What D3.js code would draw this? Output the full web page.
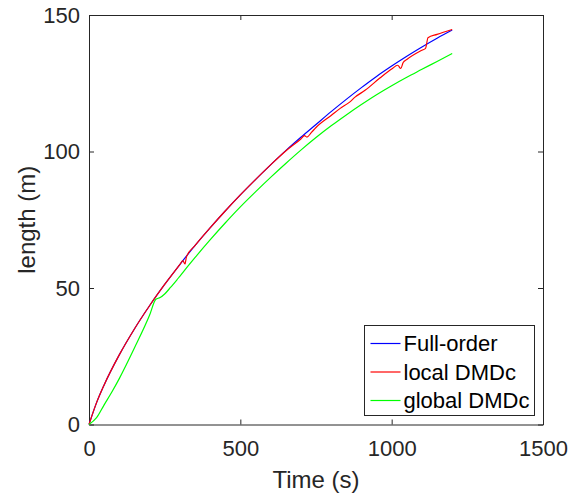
<!DOCTYPE html>
<html lang="en">
    <head>
        <meta charset="utf-8">
        <title>length vs time</title>
        <script src="https://d3js.org/d3.v7.min.js"></script>
        <style>
            body {
                margin: 0;
                background-color: #ffffff;
            }
            svg {
                font-family: "Liberation Sans", Arial, sans-serif;
            }
            .axis text {
                fill: #262626;
                font-size: 22px;
            }
            .axis path, .axis line {
                stroke: #262626;
            }
        </style>
    </head>
    <body>
        <svg id="chart"></svg>
        <script>
            // values
            const fullTime = [0, 25, 50, 100, 150, 200, 250, 300, 350, 400, 450, 500, 550, 600, 650, 700, 750, 800, 850, 900, 950, 1000, 1050, 1100, 1150, 1200];
            const fullLength = [0, 8, 14.5, 25.5, 35, 43.5, 51.3, 58.6, 65.5, 72, 78.2, 84.1, 89.7, 95.1, 100.3, 105.2, 109.9, 114.6, 119.1, 123.4, 127.5, 131.3, 134.9, 138.3, 141.5, 144.5];

            const localTime = [0, 25, 50, 100, 150, 200, 250, 300, 310, 317, 322, 350, 400, 450, 500, 550, 600, 650, 700, 712, 720, 735, 750, 800, 830, 860, 880, 912, 961, 1000, 1020, 1030, 1038, 1050, 1100, 1112, 1120, 1150, 1200];
            const localLength = [0, 8, 14.5, 25.5, 35, 43.5, 51.3, 58.6, 60.0, 58.8, 61.4, 65.5, 72, 78.2, 84.1, 89.7, 95.1, 100.2, 104.6, 105.8, 105.3, 107.0, 108.8, 113.2, 115.8, 118.0, 120.0, 122.4, 126.9, 130.2, 131.6, 130.4, 132.6, 133.7, 137.1, 137.8, 141.7, 142.9, 144.7];

            const globalTime = [0, 25, 50, 75, 100, 150, 200, 221, 235, 250, 270, 290, 300, 350, 400, 450, 500, 550, 600, 650, 700, 750, 800, 850, 900, 950, 1000, 1050, 1100, 1150, 1200];
            const globalLength = [0, 2.5, 7.2, 11.8, 16.8, 28, 40, 45.9, 46.5, 47.8, 50.3, 52.9, 54.3, 61.1, 67.6, 73.8, 79.7, 85.2, 90.5, 95.6, 100.5, 105.1, 109.4, 113.4, 117.2, 120.8, 124.1, 127.2, 130.1, 133, 135.9];

            const seriesNames = ["Full-order", "local DMDc", "global DMDc"];
            const seriesColors = ["#0000ff", "#ff0000", "#00ff00"];

            const xTicks = [0, 500, 1000, 1500];
            const yTicks = [0, 50, 100, 150];

            //dimensions
            const width = 579;
            const height = 500;
            const margin = { top: 15, right: 36, bottom: 75.5, left: 89 };
            const plotW = width - margin.left - margin.right;
            const plotH = height - margin.top - margin.bottom;

            const svg = d3.select("#chart")
                .attr("width", width)
                .attr("height", height);

            const xScale = d3.scaleLinear().domain([0, 1500]).range([0, plotW]);
            const yScale = d3.scaleLinear().domain([0, 150]).range([plotH, 0]);

            const g = svg.append("g")
                .attr("transform", `translate(${margin.left}, ${margin.top})`);

            //axes (ticks point inward, box on)
            g.append("g")
                .attr("class", "axis")
                .attr("transform", `translate(0, ${plotH})`)
                .call(d3.axisBottom(xScale).tickValues(xTicks).tickFormat(d3.format("d"))
                    .tickSizeInner(-5).tickSizeOuter(0).tickPadding(16));

            g.append("g")
                .attr("class", "axis")
                .call(d3.axisLeft(yScale).tickValues(yTicks).tickFormat(d3.format("d"))
                    .tickSizeInner(-5).tickSizeOuter(0).tickPadding(9));

            g.append("g")
                .attr("class", "axis")
                .call(d3.axisTop(xScale).tickValues(xTicks).tickSizeInner(-5).tickSizeOuter(0).tickFormat(""));

            g.append("g")
                .attr("class", "axis")
                .attr("transform", `translate(${plotW}, 0)`)
                .call(d3.axisRight(yScale).tickValues(yTicks).tickSizeInner(-5).tickSizeOuter(0).tickFormat(""));

            //lines
            const line = d3.line()
                .curve(d3.curveMonotoneX)
                .x(d => xScale(d[0]))
                .y(d => yScale(d[1]));

            const series = [
                d3.zip(fullTime, fullLength),
                d3.zip(localTime, localLength),
                d3.zip(globalTime, globalLength)
            ];

            series.forEach((s, i) => {
                g.append("path")
                    .datum(s)
                    .attr("fill", "none")
                    .attr("stroke", seriesColors[i])
                    .attr("stroke-width", 1.2)
                    .attr("d", line);
            });

            //axis labels
            svg.append("text")
                .attr("x", margin.left + plotW / 2)
                .attr("y", 488)
                .attr("text-anchor", "middle")
                .attr("fill", "#262626")
                .style("font-size", "24px")
                .text("Time (s)");

            svg.append("text")
                .attr("transform", `translate(35, ${margin.top + plotH / 2}) rotate(-90)`)
                .attr("text-anchor", "middle")
                .attr("fill", "#262626")
                .style("font-size", "24px")
                .text("length (m)");

            //legend
            const legend = svg.append("g")
                .attr("transform", "translate(364.5, 325.5)");

            legend.append("rect")
                .attr("width", 170)
                .attr("height", 90)
                .attr("fill", "#ffffff")
                .attr("stroke", "#262626")
                .attr("stroke-width", 1);

            seriesNames.forEach((name, i) => {
                const yy = 18 + i * 28.5;
                legend.append("line")
                    .attr("x1", 6)
                    .attr("x2", 36)
                    .attr("y1", yy)
                    .attr("y2", yy)
                    .attr("stroke", seriesColors[i])
                    .attr("stroke-width", 1.2);
                legend.append("text")
                    .attr("x", 39)
                    .attr("y", yy)
                    .attr("dy", "0.35em")
                    .attr("fill", "#000000")
                    .style("font-size", "22px")
                    .text(name);
            });
        </script>
    </body>
</html>
